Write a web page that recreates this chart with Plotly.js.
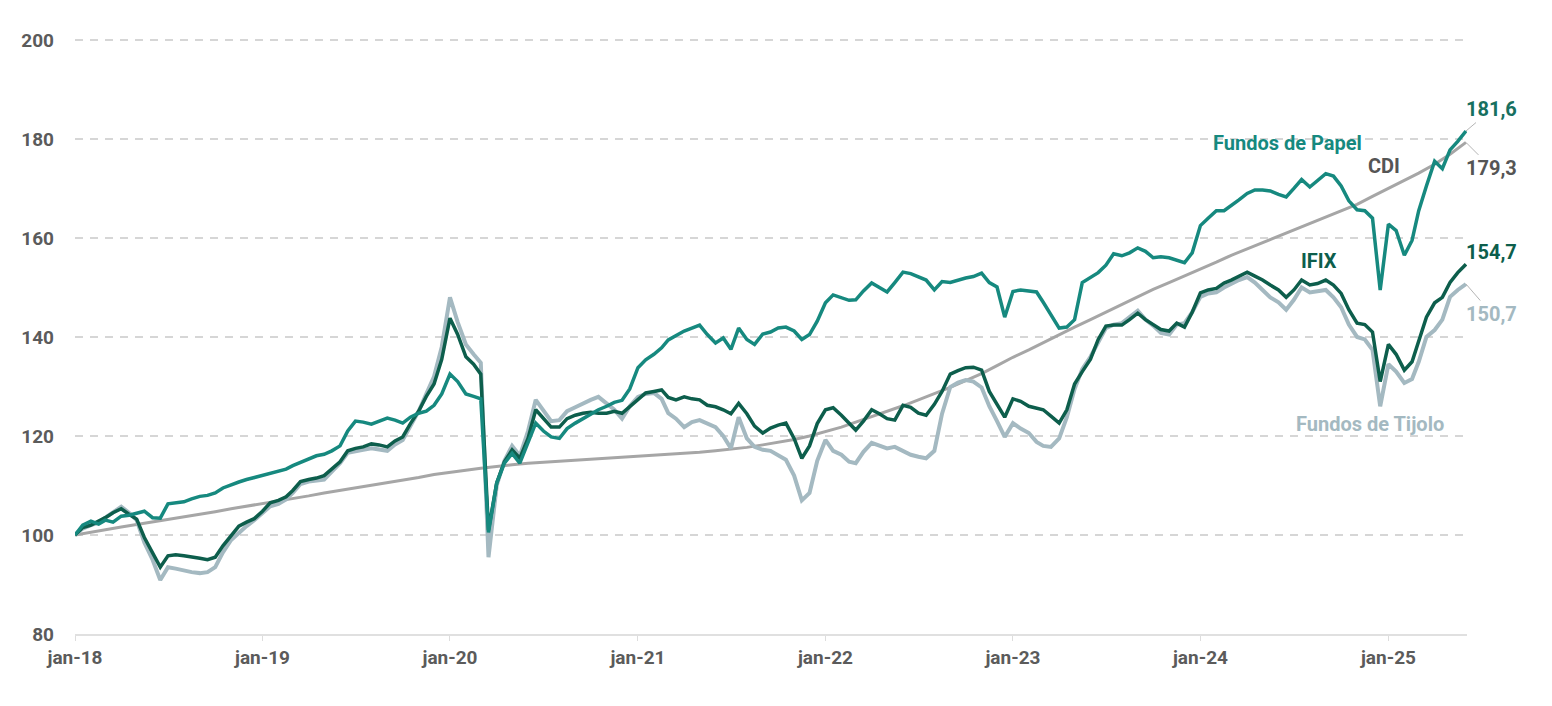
<!DOCTYPE html>
<html>
<head>
<meta charset="utf-8">
<script src="https://cdn.plot.ly/plotly-3.0.1.min.js"></script>
<style>
  html, body { margin: 0; padding: 0; background: #fff; }
  #chart { width: 1552px; height: 706px; }
</style>
</head>
<body>
<div id="chart"></div>
<script>
// semi-monthly readings (1st and 16th of each month), jan-18 .. jun-25
var dates = [];
for (var yr = 2018; yr <= 2025; yr++) {
  for (var mo = 1; mo <= 12; mo++) {
    if (yr === 2025 && mo > 5) break;
    var mm = (mo < 10 ? '0' : '') + mo;
    dates.push(yr + '-' + mm + '-01', yr + '-' + mm + '-16');
  }
}
dates.push('2025-06-01');

var papel = [
  100.0,102.0, 102.8,102.2, 103.0,102.6, 103.8,104.0, 104.4,104.8, 103.5,103.4, 106.3,106.5, 106.7,107.3, 107.8,108.0, 108.5,109.5, 110.2,110.7, 111.2,111.6,
  111.9,112.3, 112.8,113.3, 114.0,114.6, 115.4,116.0, 116.3,117.0, 118.0,121.0, 123.0,122.8, 122.4,123.0, 123.6,123.2, 122.6,123.8, 124.6,125.0, 126.2,128.5,
  132.5,131.0, 128.5,128.0, 127.5,100.5, 110.5,114.5, 116.5,114.5, 118.5,122.6, 121.0,119.8, 119.5,121.5, 122.6,123.5, 124.5,125.3, 126.0,126.8, 127.2,129.5,
  133.8,135.4, 136.5,137.8, 139.4,140.3, 141.2,141.8, 142.4,140.5, 138.8,139.8, 137.5,141.8, 139.5,138.5, 140.6,141.0, 141.8,142.0, 141.2,139.5, 140.5,143.2,
  146.9,148.5, 148.0,147.4, 147.5,149.3, 150.9,150.0, 149.1,151.0, 153.1,152.8, 152.1,151.5, 149.5,151.2, 151.0,151.5, 151.9,152.2, 152.9,151.0, 150.1,144.0,
  149.2,149.5, 149.3,149.1, 147.0,144.5, 141.8,142.0, 143.5,151.0, 152.1,153.0, 154.5,156.8, 156.4,157.0, 158.0,157.3, 156.0,156.2, 156.0,155.5, 155.0,157.0,
  162.5,164.0, 165.5,165.5, 166.5,167.7, 169.0,169.7, 169.7,169.5, 168.8,168.3, 170.0,171.8, 170.3,171.5, 173.0,172.5, 170.5,167.5, 165.7,165.5, 164.0,149.5,
  162.8,161.5, 156.5,159.5, 165.5,170.5, 175.5,174.0, 177.8,179.5, 181.6
];

var ifix = [
  100.0,101.5, 102.0,102.8, 103.5,104.5, 105.3,104.2, 103.2,99.5, 96.5,93.5, 95.8,96.0, 95.8,95.6, 95.3,95.0, 95.5,97.8, 100.0,101.8, 102.6,103.3,
  104.8,106.5, 107.0,107.7, 109.0,110.8, 111.2,111.5, 112.0,113.3, 114.8,117.0, 117.5,117.8, 118.4,118.2, 117.8,119.0, 119.8,122.5, 125.0,128.0, 130.5,135.5,
  143.8,140.5, 136.0,134.5, 132.5,101.0, 110.5,114.8, 117.2,115.5, 119.5,125.3, 123.5,121.8, 121.8,123.5, 124.2,124.6, 124.8,124.6, 124.6,125.0, 124.6,126.0,
  127.5,128.7, 129.0,129.3, 127.8,127.3, 127.9,127.5, 127.3,126.2, 125.9,125.3, 124.5,126.6, 124.5,122.0, 120.6,121.6, 122.2,122.6, 119.5,115.5, 118.0,122.5,
  125.3,125.7, 124.2,122.6, 121.2,123.0, 125.3,124.5, 123.5,123.2, 126.2,125.8, 124.6,124.2, 126.4,129.0, 132.5,133.2, 133.8,133.9, 133.3,129.0, 126.5,123.8,
  127.5,127.0, 126.0,125.6, 125.3,124.0, 122.6,125.3, 130.5,133.0, 135.5,139.5, 142.2,142.4, 142.4,143.5, 144.8,143.5, 142.5,141.5, 141.2,142.8, 142.0,145.0,
  148.9,149.5, 149.8,150.9, 151.5,152.3, 153.1,152.3, 151.5,150.5, 149.5,148.0, 149.5,151.5, 150.5,150.8, 151.5,150.5, 148.8,145.5, 142.8,142.5, 141.0,131.0,
  138.5,136.5, 133.3,135.0, 139.0,144.0, 146.9,148.0, 151.0,153.0, 154.7
];

var tijolo = [
  100.0,101.3, 102.0,102.5, 103.5,104.5, 105.7,104.5, 103.0,98.5, 95.0,90.9, 93.5,93.2, 92.8,92.5, 92.3,92.5, 93.5,96.5, 99.0,100.5, 101.8,103.0,
  104.5,105.8, 106.3,107.2, 108.5,110.3, 110.8,111.0, 111.2,112.8, 114.5,116.6, 116.8,117.2, 117.5,117.2, 117.0,118.3, 119.2,122.0, 125.0,128.5, 132.0,138.0,
  148.0,143.0, 138.5,136.5, 134.8,95.5, 110.0,115.0, 118.0,116.0, 121.0,127.3, 125.0,123.0, 123.2,125.0, 125.8,126.6, 127.3,127.9, 126.5,125.3, 123.5,126.0,
  127.9,128.5, 128.7,127.5, 124.6,123.5, 121.8,122.8, 123.2,122.5, 121.8,120.0, 117.5,123.8, 119.5,117.8, 117.2,117.0, 116.2,115.2, 112.0,107.0, 108.5,115.0,
  119.2,117.0, 116.2,114.8, 114.5,116.8, 118.6,118.0, 117.5,117.8, 117.0,116.2, 115.8,115.5, 117.0,124.5, 129.9,130.8, 131.3,131.0, 129.8,126.0, 123.0,119.8,
  122.6,121.5, 120.6,118.8, 118.0,117.8, 119.5,123.8, 129.5,133.5, 136.0,139.0, 141.8,142.5, 142.8,144.0, 145.3,143.5, 142.3,140.8, 140.5,142.5, 142.8,145.0,
  148.1,148.8, 149.0,150.0, 150.8,151.5, 152.1,151.0, 149.5,148.0, 147.0,145.5, 147.5,150.0, 149.0,149.3, 149.5,148.0, 146.0,142.5, 140.0,139.5, 137.4,126.0,
  134.5,133.0, 130.7,131.5, 135.0,140.0, 141.4,143.5, 148.1,149.5, 150.7
];

// CDI, monthly (1st of month)
var cdiDates = [];
for (var y2 = 2018; y2 <= 2025; y2++) {
  for (var m2 = 1; m2 <= 12; m2++) {
    if (y2 === 2025 && m2 > 6) break;
    cdiDates.push(y2 + '-' + (m2 < 10 ? '0' : '') + m2 + '-01');
  }
}
var cdi = [
  100.0, 100.6, 101.1, 101.6, 102.1, 102.6, 103.1, 103.7, 104.2, 104.7, 105.3, 105.8,
  106.4, 106.9, 107.4, 107.9, 108.5, 109.0, 109.5, 110.1, 110.6, 111.1, 111.6, 112.2,
  112.7, 113.1, 113.5, 113.9, 114.2, 114.5, 114.7, 114.9, 115.1, 115.3, 115.5, 115.6,
  115.8, 116.0, 116.2, 116.4, 116.7, 117.0, 117.3, 117.7, 118.2, 118.7, 119.3, 120.0,
  120.9, 121.8, 122.8, 123.9, 125.0, 126.1, 127.3, 128.5, 129.8, 131.2, 132.6, 134.2,
  135.9, 137.4, 138.9, 140.5, 142.0, 143.5, 145.0, 146.6, 148.1, 149.6, 151.0, 152.3,
  153.7, 155.1, 156.5, 157.8, 159.0, 160.3, 161.6, 162.8, 164.1, 165.4, 166.8, 168.4,
  170.0, 171.5, 173.1, 174.9, 176.9, 179.3
];

var tickDates = ['2018-01-01','2019-01-01','2020-01-01','2021-01-01','2022-01-01','2023-01-01','2024-01-01','2025-01-01'];
var tickText = ['jan-18','jan-19','jan-20','jan-21','jan-22','jan-23','jan-24','jan-25'];

var cPapel = '#16897f', cIfix = '#0d5e4c', cTijolo = '#a4b9c1', cCdi = '#a6a6a6';

function fmt(v){ return v.toFixed(1).replace('.', ','); }

var data = [
  { x: cdiDates, y: cdi, type: 'scatter', mode: 'lines', name: 'CDI',
    line: { color: cCdi, width: 3 }, hoverinfo: 'skip' },
  { x: dates, y: tijolo, type: 'scatter', mode: 'lines', name: 'Fundos de Tijolo',
    line: { color: cTijolo, width: 4 }, hoverinfo: 'skip' },
  { x: dates, y: ifix, type: 'scatter', mode: 'lines', name: 'IFIX',
    line: { color: cIfix, width: 3.5 }, hoverinfo: 'skip' },
  { x: dates, y: papel, type: 'scatter', mode: 'lines', name: 'Fundos de Papel',
    line: { color: cPapel, width: 3.5 }, hoverinfo: 'skip' }
];

var lastD = dates[dates.length - 1];
var lbl = { family: 'Roboto', size: 20, weight: 700 };
var endFont = { family: 'Roboto', size: 20, weight: 700 };
var tickFont = { family: 'Roboto', size: 19, color: '#5b5b5b', weight: 700 };

function endLabel(yv, color, ax, ay, lineColor){
  return {
    x: lastD, y: yv, xref: 'x', yref: 'y', text: fmt(yv),
    showarrow: true, arrowhead: 0, arrowwidth: 1, arrowcolor: lineColor,
    ax: ax, ay: ay, standoff: 0,
    font: Object.assign({}, endFont, { color: color })
  };
}

var layout = {
  width: 1552,
  height: 706,
  paper_bgcolor: '#ffffff',
  plot_bgcolor: '#ffffff',
  showlegend: false,
  margin: { l: 75, r: 85, t: 35, b: 72, pad: 0 },
  xaxis: {
    type: 'date',
    range: ['2018-01-01', '2025-06-03'],
    tickvals: tickDates,
    ticktext: tickText,
    ticks: 'outside',
    ticklen: 5,
    tickcolor: '#dddddd',
    showline: true,
    linecolor: '#e0e0e0',
    linewidth: 2,
    showgrid: false,
    zeroline: false,
    tickfont: tickFont
  },
  yaxis: {
    range: [80, 201],
    tickvals: [80, 100, 120, 140, 160, 180, 200],
    showgrid: true,
    gridcolor: '#d6d6d6',
    gridwidth: 1.5,
    griddash: '8px,7px',
    zeroline: false,
    showline: false,
    ticks: '',
    ticklabelstandoff: 20,
    tickfont: tickFont
  },
  annotations: [
    { x: '2024-06-18', y: 179.2, xref: 'x', yref: 'y', text: 'Fundos de Papel', showarrow: false,
      font: Object.assign({}, lbl, { color: cPapel }) },
    { x: '2024-12-24', y: 174.5, xref: 'x', yref: 'y', text: 'CDI', showarrow: false,
      font: Object.assign({}, lbl, { color: '#555555' }) },
    { x: '2024-08-19', y: 155.4, xref: 'x', yref: 'y', text: 'IFIX', showarrow: false,
      font: Object.assign({}, lbl, { color: cIfix }) },
    { x: '2024-11-26', y: 122.4, xref: 'x', yref: 'y', text: 'Fundos de Tijolo', showarrow: false,
      font: Object.assign({}, lbl, { color: cTijolo }) },
    endLabel(papel[papel.length - 1], '#17705f', 26, -22, '#b5b5b5'),
    endLabel(cdi[cdi.length - 1], '#555555', 26, 26, '#b5b5b5'),
    endLabel(ifix[ifix.length - 1], cIfix, 26, -12, 'rgba(0,0,0,0)'),
    endLabel(tijolo[tijolo.length - 1], cTijolo, 26, 30, '#b5b5b5')
  ]
};

Plotly.newPlot('chart', data, layout, { displayModeBar: false, staticPlot: true });
</script>
</body>
</html>
